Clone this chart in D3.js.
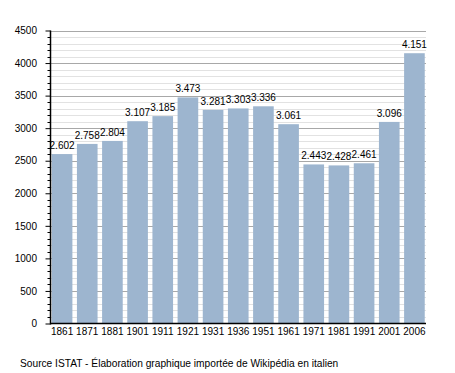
<!DOCTYPE html>
<html><head><meta charset="utf-8">
<script src="https://cdn.jsdelivr.net/npm/d3@7"></script>
<style>body{margin:0;background:#fff}svg{display:block}text{font-family:"Liberation Sans",Arial,sans-serif;fill:#000}</style>
</head><body>
<svg id="c" width="455" height="373"></svg>
<script>
const years = ["1861","1871","1881","1901","1911","1921","1931","1936","1951","1961","1971","1981","1991","2001","2006"];
const population = [2602,2758,2804,3107,3185,3473,3281,3303,3336,3061,2443,2428,2461,3096,4151];
const valueLabels = ["2.602","2.758","2.804","3.107","3.185","3.473","3.281","3.303","3.336","3.061","2.443","2.428","2.461","3.096","4.151"];
const yTicks = [0,500,1000,1500,2000,2500,3000,3500,4000,4500];
const sourceText = "Source ISTAT - Élaboration graphique importée de Wikipédia en italien";

const svg = d3.select("#c");
const L = 50.5, R = 426, T = 30.5, B = 323.5;
const x = d3.scaleBand().domain(years).range([L, R]).paddingInner(0.18).paddingOuter(0.05);
const y = d3.scaleLinear().domain([0, 4500]).range([B, T]);

// minor grid
const minor = d3.range(0, 4501, 100).filter(v => v % 500 !== 0);
svg.append("g").selectAll("line").data(minor).join("line")
  .attr("x1", L).attr("x2", R).attr("y1", d => Math.round(y(d)) + 0.5).attr("y2", d => Math.round(y(d)) + 0.5)
  .attr("stroke", "#e2e2e2").attr("stroke-width", 1);
// major grid
svg.append("g").selectAll("line").data(yTicks.filter(v => v > 0)).join("line")
  .attr("x1", L).attr("x2", R).attr("y1", d => Math.round(y(d)) + 0.5).attr("y2", d => Math.round(y(d)) + 0.5)
  .attr("stroke", "#a8a8a8").attr("stroke-width", 1);

// bars
svg.append("g").selectAll("rect").data(population).join("rect")
  .attr("x", (d, i) => x(years[i])).attr("width", x.bandwidth())
  .attr("y", d => y(d)).attr("height", d => B - y(d))
  .attr("fill", "#9db5cf");

// value labels
svg.append("g").selectAll("text").data(population).join("text")
  .attr("x", (d, i) => x(years[i]) + x.bandwidth() / 2)
  .attr("y", d => y(d) - 5)
  .attr("text-anchor", "middle").attr("font-size", "10px")
  .text((d, i) => valueLabels[i]);

// y axis
const yAxis = d3.axisLeft(y).tickValues(yTicks).tickSize(5).tickFormat(d3.format("d"));
const gy = svg.append("g").attr("transform", `translate(${L},0)`).call(yAxis);
gy.select(".domain").remove();
gy.selectAll(".tick line").attr("stroke", "#000");
gy.selectAll(".tick text").attr("font-size", "10px").attr("font-family", "Liberation Sans, Arial, sans-serif").attr("x", -13.5);
// minor ticks
svg.append("g").selectAll("line").data(minor).join("line")
  .attr("x1", L - 3).attr("x2", L).attr("y1", d => Math.round(y(d)) + 0.5).attr("y2", d => Math.round(y(d)) + 0.5)
  .attr("stroke", "#000");
svg.append("line").attr("x1", L).attr("x2", L).attr("y1", T).attr("y2", B + 1).attr("stroke", "#000").attr("stroke-width", 1.5);

// x axis
const xAxis = d3.axisBottom(x).tickSize(0).tickPadding(4);
const gx = svg.append("g").attr("transform", `translate(0,${B})`).call(xAxis);
gx.select(".domain").remove();
gx.selectAll(".tick text").attr("font-size", "10px").attr("font-family", "Liberation Sans, Arial, sans-serif");
svg.append("line").attr("x1", L).attr("x2", R).attr("y1", B).attr("y2", B).attr("stroke", "#000").attr("stroke-width", 1.5);

svg.append("text").attr("x", 20).attr("y", 367).attr("font-size", "10.2px").text(sourceText);
</script>
</body></html>
